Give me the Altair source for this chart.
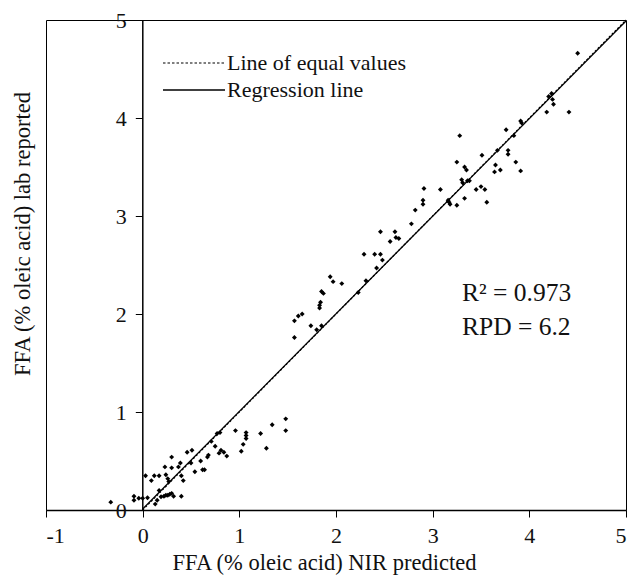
import altair as alt
import pandas as pd

# NIR predicted (x) vs lab reported (y) FFA values
pred = [
    -0.33, -0.09, -0.09, -0.04, 0.00, 0.05, 0.03, 0.09, 0.12, 0.17,
    0.13, 0.15, 0.17, 0.19, 0.22, 0.24, 0.26, 0.28, 0.30, 0.32,
    0.23, 0.24, 0.26, 0.27, 0.30, 0.30, 0.37, 0.39, 0.40, 0.42, 0.40,
    0.46, 0.51, 0.50, 0.54, 0.60, 0.62, 0.64, 0.67, 0.68,
    0.71, 0.75, 0.77, 0.80, 0.79, 0.81, 0.84, 0.87,
    0.96, 1.02, 1.04, 1.07, 1.07, 1.07, 1.22, 1.28, 1.34, 1.48, 1.48,
    1.57, 1.57, 1.61, 1.65, 1.74, 1.80, 1.85, 1.83, 1.83, 1.84,
    1.85, 1.87, 1.94, 1.97, 2.06, 2.23, 2.29, 2.31, 2.40, 2.46, 2.42, 2.48, 2.56,
    2.46, 2.61, 2.62, 2.65, 2.78, 2.82, 2.90, 2.90, 2.91,
    3.08, 3.16, 3.17, 3.18, 3.25, 3.33, 3.25, 3.33, 3.35, 3.30, 3.31, 3.36, 3.38,
    3.45, 3.50, 3.54, 3.56, 3.28, 3.51, 3.65, 3.64, 3.70, 3.67, 3.78, 3.78,
    3.86, 3.91, 3.76, 3.84, 3.91, 3.92, 4.18, 4.41, 4.20, 4.23, 4.24, 4.25, 4.50,
]
lab = [
    0.08, 0.14, 0.10, 0.12, 0.12, 0.125, 0.35, 0.30, 0.35, 0.35,
    0.06, 0.10, 0.20, 0.135, 0.14, 0.15, 0.15, 0.16, 0.17, 0.14,
    0.44, 0.36, 0.32, 0.29, 0.54, 0.43, 0.44, 0.48, 0.35, 0.30, 0.14,
    0.59, 0.61, 0.48, 0.39, 0.50, 0.41, 0.41, 0.54, 0.56,
    0.70, 0.65, 0.78, 0.79, 0.58, 0.61, 0.59, 0.55,
    0.81, 0.60, 0.67, 0.73, 0.76, 0.79, 0.78, 0.63, 0.87, 0.93, 0.81,
    1.76, 1.93, 1.98, 2.00, 1.88, 1.84, 1.88, 2.06, 2.09, 2.12,
    2.23, 2.21, 2.38, 2.33, 2.31, 2.22, 2.61, 2.34, 2.61, 2.61, 2.47, 2.55, 2.74,
    2.84, 2.84, 2.78, 2.77, 2.92, 3.06, 3.16, 3.12, 3.28,
    3.27, 3.16, 3.14, 3.12, 3.11, 3.18, 3.55, 3.50, 3.47, 3.37, 3.34, 3.36, 3.36,
    3.27, 3.30, 3.27, 3.14, 3.82, 3.62, 3.52, 3.45, 3.47, 3.67, 3.67, 3.63,
    3.55, 3.46, 3.88, 3.82, 3.97, 3.95, 4.06, 4.06, 4.22, 4.25, 4.19, 4.14, 4.66,
]

equal_x = [0, 5]
equal_y = [0, 5]
reg_x = [0, 5]
reg_y = [0.01, 4.99]

x_ticks = [-1, 0, 1, 2, 3, 4, 5]
y_ticks = [0, 1, 2, 3, 4, 5]

legend_labels = ["Line of equal values", "Regression line"]
stats_labels = ["R² = 0.973", "RPD = 6.2"]

FONT = "Liberation Serif"
LABEL_EXPR = "datum.value < 0 ? '-' + abs(datum.value) : '' + datum.value"

pts = pd.DataFrame({"pred": pred, "lab": lab})
eq = pd.DataFrame({"pred": equal_x, "lab": equal_y})
rg = pd.DataFrame({"pred": reg_x, "lab": reg_y})

xscale = alt.Scale(domain=[-1, 5], nice=False, zero=False)
yscale = alt.Scale(domain=[0, 5], nice=False, zero=False)

xaxis = alt.Axis(values=x_ticks, title=None, grid=False, domainColor="black",
                 domainWidth=1.5, tickColor="black", tickSize=7, tickWidth=1,
                 labelFont=FONT, labelFontSize=22, labelColor="#111",
                 labelPadding=8, labelExpr=LABEL_EXPR)
yaxis = alt.Axis(values=y_ticks, title=None, grid=False, domainColor="black",
                 domainWidth=1.5, tickColor="black", tickSize=7, tickWidth=1,
                 labelFont=FONT, labelFontSize=22, labelColor="#111",
                 labelPadding=9, offset=-96.3, labelExpr=LABEL_EXPR)

points = alt.Chart(pts).mark_point(filled=True, shape="diamond", size=24,
                                   color="black", opacity=1).encode(
    x=alt.X("pred:Q", scale=xscale, axis=xaxis),
    y=alt.Y("lab:Q", scale=yscale, axis=yaxis),
)

eq_line = alt.Chart(eq).mark_line(color="black", strokeWidth=1.2,
                                  strokeDash=[2, 2]).encode(
    x=alt.X("pred:Q", scale=xscale), y=alt.Y("lab:Q", scale=yscale))

reg_line = alt.Chart(rg).mark_line(color="black", strokeWidth=1.3).encode(
    x=alt.X("pred:Q", scale=xscale), y=alt.Y("lab:Q", scale=yscale))

one = pd.DataFrame({"a": [0]})

leg_dot = alt.Chart(one).mark_rule(color="black", strokeWidth=1.2,
                                   strokeDash=[2.5, 2]).encode(
    x=alt.value(117), x2=alt.value(179), y=alt.value(43))
leg_solid = alt.Chart(one).mark_rule(color="black", strokeWidth=1.3).encode(
    x=alt.value(117), x2=alt.value(179), y=alt.value(70))

leg_df = pd.DataFrame({"t": legend_labels, "yy": [43, 70]})
leg_text = alt.Chart(leg_df).mark_text(font=FONT, fontSize=22, align="left",
                                       baseline="middle", color="#111").encode(
    x=alt.value(181), y=alt.Y("yy:Q", scale=None), text="t:N")

st_df = pd.DataFrame({"t": stats_labels, "yy": [273, 307]})
st_text = alt.Chart(st_df).mark_text(font=FONT, fontSize=25.5, align="left",
                                     baseline="middle", color="#111").encode(
    x=alt.value(416), y=alt.Y("yy:Q", scale=None), text="t:N")

xtitle = alt.Chart(one).mark_text(text="FFA (% oleic acid) NIR predicted",
                                  font=FONT, fontSize=22.5, align="center",
                                  baseline="middle", color="#111").encode(
    x=alt.value(278.5), y=alt.value(543))
ytitle = alt.Chart(one).mark_text(text="FFA (% oleic acid) lab reported",
                                  font=FONT, fontSize=22.5, align="center",
                                  baseline="middle", angle=270, color="#111").encode(
    x=alt.value(-23), y=alt.value(214))

chart = alt.layer(eq_line, reg_line, points, leg_dot, leg_solid, leg_text,
                  st_text, xtitle, ytitle).properties(
    width=580, height=490,
    autosize=alt.AutoSizeParams(type="none"),
    padding={"left": 46, "top": 20, "right": 4, "bottom": 67},
    background="white",
).configure_view(stroke="black", strokeWidth=1)

chart.save("out.html", embed_options={"renderer": "svg", "actions": False})
